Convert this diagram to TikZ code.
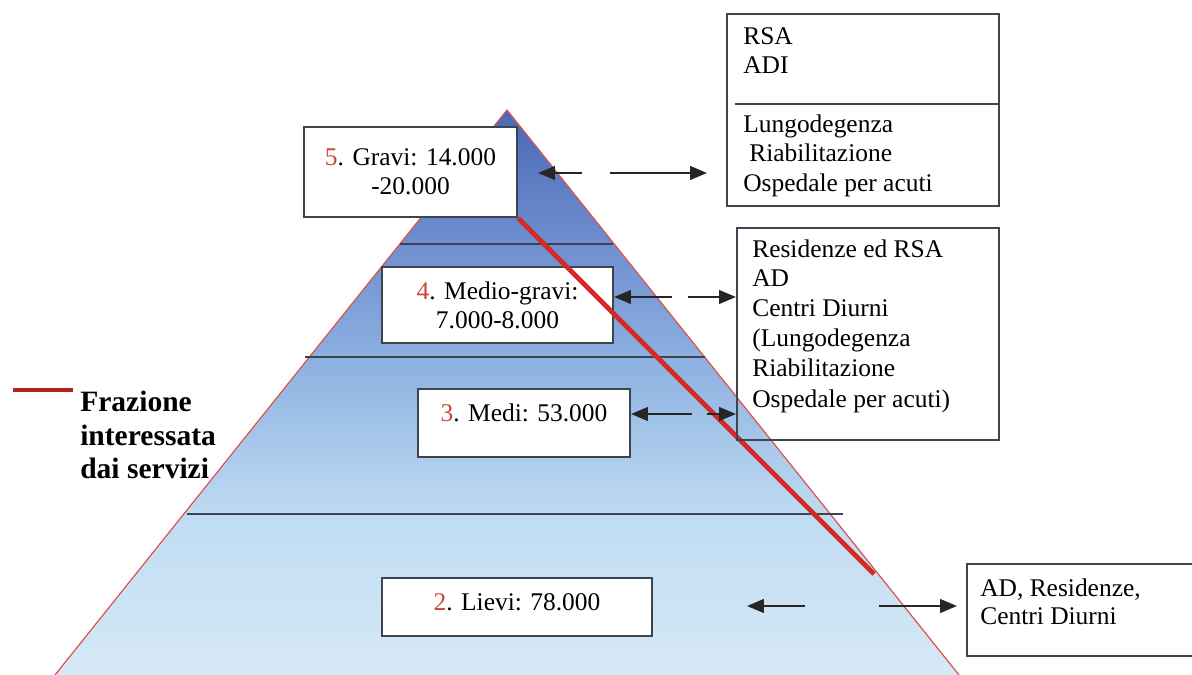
\documentclass[tikz,border=0pt]{standalone}
\usepackage{fontspec}
\setmainfont{Liberation Serif}
\usepackage{xcolor}
\usetikzlibrary{arrows.meta,positioning}

\definecolor{pyrA}{HTML}{D6E9F5}
\definecolor{pyrB}{HTML}{C0DCF3}
\definecolor{pyrC}{HTML}{8CB0E0}
\definecolor{pyrD}{HTML}{6F8FD0}
\definecolor{pyrE}{HTML}{4A68B4}
\definecolor{numred}{HTML}{C8463C}
\definecolor{fracred}{HTML}{D42A24}
\definecolor{boxgray}{HTML}{3C4450}
\definecolor{arrgray}{HTML}{262626}
\pgfdeclareverticalshading{pyramid}{100bp}{color(0bp)=(pyrA); color(25bp)=(pyrA); color(39bp)=(pyrB); color(53bp)=(pyrC); color(63bp)=(pyrD); color(75bp)=(pyrE); color(100bp)=(pyrE)}

\begin{document}
\begin{tikzpicture}[x=0.025cm,y=-0.025cm,>={Triangle[length=0.42cm,width=0.34cm]}]
  \tikzstyle{level}=[draw=boxgray,line width=0.05cm,fill=white,inner sep=0pt,align=center,font=\fontsize{18.1}{20.6}\selectfont]
  \tikzstyle{service}=[draw=boxgray,line width=0.04cm,inner sep=0pt,anchor=north west]
  \tikzstyle{item}=[anchor=base west,inner sep=0pt,font=\fontsize{18.1}{20.6}\selectfont]
  \tikzstyle{band}=[draw=boxgray,line width=0.05cm]
  \tikzstyle{arr}=[->,draw=arrgray,line width=0.05cm]

  \useasboundingbox[fill=white] (0,0) rectangle (1192,675);

  % pyramid
  \coordinate (apex) at (507,110);
  \coordinate (bl) at (55,675);
  \coordinate (br) at (959,675);
  \shade[shading=pyramid] (apex) -- (br) -- (bl) -- cycle;
  \draw[fracred!80,line width=0.03cm] (bl) -- (apex) -- (br);
  \draw[band] (400,244) -- (613,244);
  \draw[band] (305,357) -- (705,357);
  \draw[band] (187,514) -- (843,514);

  % levels
  \node[level,minimum width=5.325cm,minimum height=2.25cm] (gravi) at (410.5,172)
    {\textcolor{numred}{5}. Gravi: 14.000\\-20.000};
  \node[level,minimum width=5.775cm,minimum height=1.9cm] (mediogravi) at (497.5,305)
    {\textcolor{numred}{4}. Medio-gravi:\\7.000-8.000};
  \node[level,anchor=base,minimum width=5.3cm,text height=0.825cm,text depth=0.875cm] (medi) at (524,422)
    {\textcolor{numred}{3}. Medi: 53.000};
  \node[level,anchor=base,minimum width=6.75cm,text height=0.8cm,text depth=0.65cm] (lievi) at (517,610)
    {\textcolor{numred}{2}. Lievi: 78.000};

  % fraction line
  \coordinate (fend) at (874,574);
  \draw[fracred,line width=0.12cm] (gravi.south east) -- (fend);

  % services
  \node[service,minimum width=6.8cm,minimum height=4.8cm] (svcgravi) at (726,13) {};
  \draw[boxgray,line width=0.04cm] (735,104) -- (998,104);
  \foreach \x/\y/\t in {743/45/RSA,743/74/ADI,743/133/Lungodegenza,749/162/Riabilitazione,743/192/Ospedale per acuti}
    \node[item] (sg\y) at (\x,\y) {\t};
  \node[service,minimum width=6.55cm,minimum height=5.3cm] (svcmedio) at (736,227) {};
  \foreach \y/\t in {258/Residenze ed RSA,287/AD,317/Centri Diurni,347/(Lungodegenza,377/Riabilitazione,407/Ospedale per acuti)}
    \node[item] (sm\y) at (752,\y) {\t};
  \node[service,minimum width=6cm,minimum height=2.3cm] (svclievi) at (966,563) {};
  \foreach \y/\t in {596/{AD, Residenze,},624/Centri Diurni}
    \node[item] (sl\y) at (980,\y) {\t};

  % arrows
  \coordinate (a5l) at (582,173); \coordinate (h5l) at (538,173);
  \coordinate (a5r) at (610,173); \coordinate (h5r) at (707,173);
  \draw[arr] (a5l) -- (h5l);
  \draw[arr] (a5r) -- (h5r);
  \coordinate (a4l) at (672,297); \coordinate (a4r) at (688,297);
  \draw[arr] (a4l) -- (a4l -| mediogravi.east);
  \draw[arr] (a4r) -- (a4r -| svcmedio.west);
  \coordinate (a3l) at (692,414); \coordinate (a3r) at (707,414);
  \draw[arr] (a3l) -- (a3l -| medi.east);
  \draw[arr] (a3r) -- (a3r -| svcmedio.west);
  \coordinate (a2l) at (805,606); \coordinate (h2l) at (747,606);
  \coordinate (a2r) at (879,606); \coordinate (h2r) at (957,606);
  \draw[arr] (a2l) -- (h2l);
  \draw[arr] (a2r) -- (h2r);

  % legend
  \draw[fracred!85!black,line width=0.1cm] (13,390) -- (73,390);
  \node[anchor=north west,align=left,inner sep=0pt,font=\bfseries\fontsize{21}{23.8}\selectfont] (legend) at (80,391)
    {Frazione\\interessata\\dai servizi};
\end{tikzpicture}
\end{document}
